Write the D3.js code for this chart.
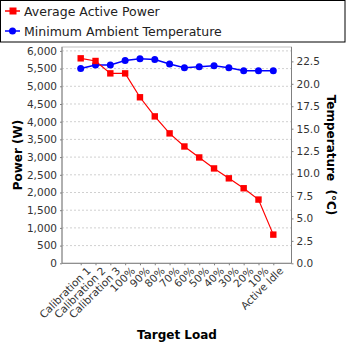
<!DOCTYPE html>
<html><head><meta charset="utf-8">
<script src="https://cdn.jsdelivr.net/npm/d3@7"></script>
<style>body{margin:0;background:#fff}svg{display:block}</style>
</head><body>
<svg id="c" width="348" height="348"></svg>
<script>
const categories = ["Calibration 1","Calibration 2","Calibration 3","100%","90%","80%","70%","60%","50%","40%","30%","20%","10%","Active Idle"];
const power = [5790, 5715, 5365, 5365, 4690, 4150, 3670, 3300, 2990, 2680, 2400, 2120, 1800, 810];
const temperature = [21.7, 22.1, 22.1, 22.6, 22.8, 22.7, 22.2, 21.8, 21.9, 22.0, 21.8, 21.45, 21.45, 21.45];
const powerTicks = [0,500,1000,1500,2000,2500,3000,3500,4000,4500,5000,5500,6000];
const tempTicks = [0,2.5,5,7.5,10,12.5,15,17.5,20,22.5];
const seriesNames = ["Average Active Power","Minimum Ambient Temperature"];

const svg = d3.select("#c");
const L = 62, R = 291.5, T = 47, B = 263.3;
const font = "DejaVu Sans, sans-serif";

const x = d3.scalePoint().domain(categories).range([80.7, 273.3]);
const yP = d3.scaleLinear().domain([0, 6110]).range([B, T]);
const yT = d3.scaleLinear().domain([0, 24.1]).range([B, T]);

// gridlines
svg.append("g").selectAll("line").data(powerTicks.slice(1)).join("line")
  .attr("x1", L).attr("x2", R).attr("y1", d => yP(d)).attr("y2", d => yP(d))
  .attr("stroke", "#d0d0d0").attr("stroke-width", 1).attr("stroke-dasharray", "2,2");

// plot border (top & right light)
svg.append("rect").attr("x", L).attr("y", T).attr("width", R - L).attr("height", B - T)
  .attr("fill", "none").attr("stroke", "#c0c0c0").attr("stroke-width", 1);

// left axis
const gL = svg.append("g").attr("transform", `translate(${L},0)`)
  .call(d3.axisLeft(yP).tickValues(powerTicks).tickFormat(d3.format(",")).tickSize(2).tickPadding(3));
// right axis
const gR = svg.append("g").attr("transform", `translate(${R},0)`)
  .call(d3.axisRight(yT).tickValues(tempTicks).tickFormat(d3.format(".1f")).tickSize(2).tickPadding(3));
// bottom axis
const gB = svg.append("g").attr("transform", `translate(0,${B})`)
  .call(d3.axisBottom(x).tickSize(2).tickSizeOuter(0).tickPadding(3));
gB.select(".domain").attr("d", `M${L},0H${R}`);

[gL, gR, gB].forEach(g => {
  g.select(".domain").attr("stroke", "#808080").attr("stroke-width", 1);
  g.selectAll(".tick line").attr("stroke", "#808080");
  g.selectAll("text").attr("font-family", font).attr("font-size", 10.5).attr("fill", "#333");
});
gL.selectAll(".domain").attr("d", `M0,${T}V${B}`);
gR.selectAll(".domain").attr("d", `M0,${T}V${B}`);

gB.selectAll(".tick text")
  .attr("text-anchor", "end")
  .attr("transform", "translate(5,3) rotate(-45)")
  .attr("dy", "0.7em").attr("y", 0).attr("x", 0);

// lines
const lineP = d3.line().x((d, i) => x(categories[i])).y(d => yP(d));
const lineT = d3.line().x((d, i) => x(categories[i])).y(d => yT(d));
svg.append("path").attr("d", lineT(temperature)).attr("fill", "none").attr("stroke", "#0000ff").attr("stroke-width", 1.5);
svg.append("path").attr("d", lineP(power)).attr("fill", "none").attr("stroke", "#ff0000").attr("stroke-width", 1.2);

svg.append("g").selectAll("circle").data(temperature).join("circle")
  .attr("cx", (d, i) => x(categories[i])).attr("cy", d => yT(d)).attr("r", 3.5).attr("fill", "#0000ff");
svg.append("g").selectAll("rect").data(power).join("rect")
  .attr("x", (d, i) => x(categories[i]) - 3.2).attr("y", d => yP(d) - 3.2)
  .attr("width", 6.4).attr("height", 6.4).attr("fill", "#ff0000");

// axis titles
svg.append("text").attr("transform", `translate(22,155) rotate(-90)`).attr("text-anchor", "middle")
  .attr("font-family", font).attr("font-weight", "bold").attr("font-size", 12).text("Power (W)");
svg.append("text").attr("transform", `translate(327,155) rotate(90)`).attr("text-anchor", "middle")
  .attr("font-family", font).attr("font-weight", "bold").attr("font-size", 12).attr("xml:space", "preserve").text("Temperature  (°C)");
svg.append("text").attr("x", 177).attr("y", 339).attr("text-anchor", "middle")
  .attr("font-family", font).attr("font-weight", "bold").attr("font-size", 12).text("Target Load");

// legend
svg.append("rect").attr("x", 0.5).attr("y", 0.5).attr("width", 344.5).attr("height", 41.5)
  .attr("fill", "#fff").attr("stroke", "#000").attr("stroke-width", 1);
const colors = ["#ff0000", "#0000ff"];
seriesNames.forEach((name, i) => {
  const cy = 11 + i * 20;
  svg.append("line").attr("x1", 5).attr("x2", 20).attr("y1", cy).attr("y2", cy).attr("stroke", colors[i]).attr("stroke-width", 1.5);
  if (i === 0) svg.append("rect").attr("x", 9.5).attr("y", cy - 3.5).attr("width", 7).attr("height", 7).attr("fill", colors[i]);
  else svg.append("circle").attr("cx", 12.5).attr("cy", cy).attr("r", 3.5).attr("fill", colors[i]);
  svg.append("text").attr("x", 24).attr("y", cy + 4.5).attr("font-family", font).attr("font-size", 12.5).attr("fill", "#222").text(name);
});
</script>
</body></html>
